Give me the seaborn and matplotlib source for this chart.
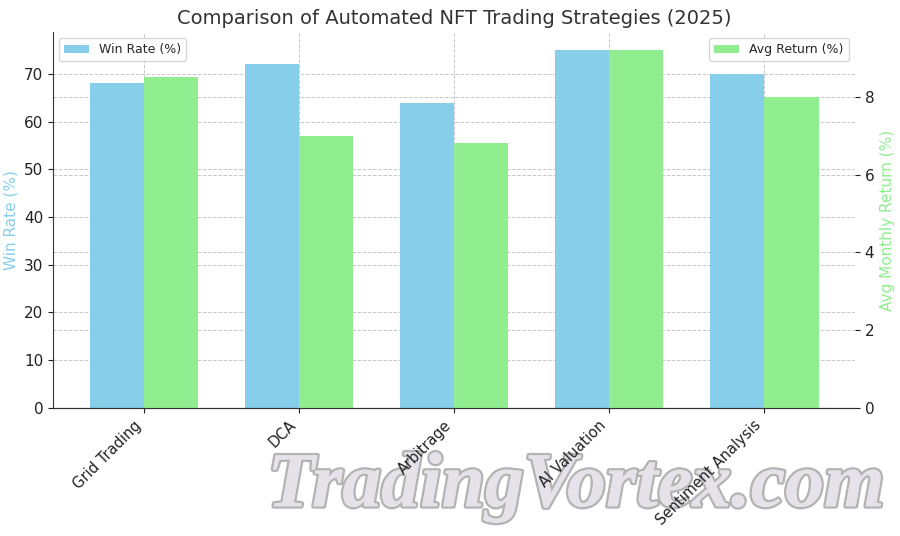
import numpy as np
import pandas as pd
import matplotlib
matplotlib.use("Agg")
import matplotlib.pyplot as plt
import matplotlib.patheffects as pe
from matplotlib.ticker import FixedLocator
import seaborn as sns

# Chart data
strategies = ["Grid Trading", "DCA", "Arbitrage", "AI Valuation", "Sentiment Analysis"]
win_rate = [68, 72, 64, 75, 70]
avg_return = [8.5, 7.0, 6.8, 9.2, 8.0]

win_label = "Win Rate (%)"
ret_label = "Avg Return (%)"

# long table so both metrics share the dodge slots
df = pd.concat([
    pd.DataFrame({"Strategy": strategies, "Value": win_rate, "Metric": win_label}),
    pd.DataFrame({"Strategy": strategies, "Value": avg_return, "Metric": ret_label}),
])
palette = {win_label: "skyblue", ret_label: "lightgreen"}
hue_order = [win_label, ret_label]

sns.set_style("ticks")
plt.rcParams["font.family"] = ["DejaVu Sans"]

fig, ax1 = plt.subplots(figsize=(9, 5.36), dpi=100)
fig.subplots_adjust(left=0.059, right=0.95, top=0.94, bottom=0.239)
ax2 = ax1.twinx()

sns.barplot(data=df[df["Metric"] == win_label], x="Strategy", y="Value", hue="Metric",
            hue_order=hue_order, palette=palette, order=strategies, width=0.7,
            saturation=1, dodge=True, legend=False, linewidth=0, ax=ax1)
sns.barplot(data=df[df["Metric"] == ret_label], x="Strategy", y="Value", hue="Metric",
            hue_order=hue_order, palette=palette, order=strategies, width=0.7,
            saturation=1, dodge=True, legend=False, linewidth=0, ax=ax2)

ax1.set_xlim(-0.585, len(strategies) - 1 + 0.585)
ax1.set_ylim(0, max(win_rate) * 1.05)
ax2.set_ylim(0, max(avg_return) * 1.05)

# grid of the right axis is drawn on ax1 as minor lines so it stays under every bar
y1max = ax1.get_ylim()[1]
y2max = ax2.get_ylim()[1]
right_ticks = [0, 2, 4, 6, 8]
ax2.set_yticks(right_ticks)
ax1.yaxis.set_minor_locator(FixedLocator([t * y1max / y2max for t in right_ticks]))
ax1.set_axisbelow(True)
grid_kw = dict(color="#c8c8c8", linestyle="--", linewidth=0.7)
ax1.grid(axis="y", which="both", **grid_kw)
ax1.grid(axis="x", which="major", **grid_kw)
ax1.tick_params(axis="y", which="minor", length=0)

ax1.set_xlabel("")
ax2.set_xlabel("")
ax1.set_ylabel("Win Rate (%)", color="skyblue", fontsize=11)
ax2.set_ylabel("Avg Monthly Return (%)", color="lightgreen", fontsize=11)
ax1.set_xticks(range(len(strategies)))
ax1.set_xticklabels(strategies, rotation=45, ha="right", fontsize=10.5)
ax1.tick_params(axis="y", labelsize=11, colors="#222222")
ax2.tick_params(axis="y", labelsize=11, colors="#222222")
ax1.tick_params(axis="x", colors="#222222")

for ax in (ax1, ax2):
    ax.spines["top"].set_visible(False)
    ax.spines["right"].set_visible(False)
    ax.spines["left"].set_color("#333333")
    ax.spines["bottom"].set_color("#333333")
ax2.spines["left"].set_visible(False)

ax1.legend([ax1.patches[0]], [win_label], loc="upper left", fontsize=9, frameon=True)
ax2.legend([ax2.patches[0]], [ret_label], loc="upper right", fontsize=9, frameon=True)

ax1.set_title("Comparison of Automated NFT Trading Strategies (2025)", fontsize=14, color="#333333")

# watermark, drawn under the axes so the tick labels sit on top of it
wm = fig.text(0.64, 0.09, "TradingVortex.com", fontsize=56, fontstyle="italic",
              fontweight="bold", family="Liberation Serif", color="#e6e2ea",
              ha="center", va="center", zorder=-1)
wm.set_path_effects([pe.withStroke(linewidth=3.5, foreground="#b4b4b4"),
                     pe.Normal()])

plt.savefig("out.png", dpi=100)
